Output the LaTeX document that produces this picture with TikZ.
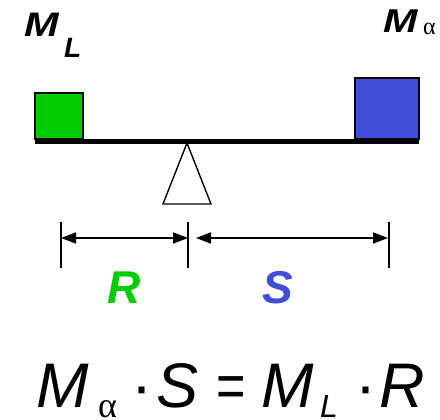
\documentclass[tikz,border=0pt]{standalone}
\usepackage{fontspec}
\usepackage{graphicx}
\setmainfont{Liberation Sans}
\newfontfamily\serifgreek{Liberation Serif}
\usetikzlibrary{arrows.meta}
\definecolor{massgreen}{RGB}{0,204,0}
\definecolor{massblue}{RGB}{66,77,215}
\tikzset{
  txt/.style={inner sep=0pt, outer sep=0pt, anchor=base west},
  mass/.style={draw=black, line width=1.4pt},
  tick/.style={line width=1.5pt},
  dim/.style={line width=1.5pt, {Triangle[length=15pt,width=11pt]}-{Triangle[length=15pt,width=11pt]}}
}
\begin{document}
\begin{tikzpicture}[x=1pt,y=-1pt]
\useasboundingbox (0,0) rectangle (440,420);
% masses
\draw[mass, fill=massgreen] (35,93) rectangle (83,139);
\draw[mass, fill=massblue] (355,78) rectangle (419,139);
% beam
\draw[line width=4.5pt] (35,141.5) -- (419,141.5);
% fulcrum
\coordinate (apex) at (187,143);
\coordinate (bl) at (163,204);
\coordinate (br) at (211,204);
\draw[line width=1.4pt, line join=miter] (apex) -- (bl) -- (br) -- cycle;
% labels above masses
\node[txt, font=\fontsize{34}{34}\selectfont\bfseries\itshape] (mlM) at (24,37) {\scalebox{1.22}[1]{M}};
\node[txt, font=\fontsize{28}{28}\selectfont\bfseries\itshape] (mlL) at (64,58) {L};
\node[txt, font=\fontsize{33}{33}\selectfont\bfseries\itshape] (maM) at (383,33) {\scalebox{1.25}[1]{M}};
\node[txt, font=\fontsize{24}{24}\selectfont\serifgreek] (maA) at (423,35) {α};
% dimension ticks
\coordinate (t1a) at (61,222); \coordinate (t1b) at (61,268);
\coordinate (t2a) at (188,222); \coordinate (t2b) at (188,268);
\coordinate (t3a) at (389,222); \coordinate (t3b) at (389,268);
\draw[tick] (t1a) -- (t1b);
\draw[tick] (t2a) -- (t2b);
\draw[tick] (t3a) -- (t3b);
\coordinate (r1) at (61,238); \coordinate (r2) at (188,238);
\coordinate (s1) at (196,238); \coordinate (s2) at (388,238);
\draw[dim] (r1) -- (r2);
\draw[dim] (s1) -- (s2);
% R and S
\node[txt, font=\fontsize{46}{46}\selectfont\bfseries\itshape, text=massgreen] (R) at (107,303) {R};
\node[txt, font=\fontsize{46}{46}\selectfont\bfseries\itshape, text=massblue] (S) at (262,303) {S};
% equation
\node[txt, font=\fontsize{63}{63}\selectfont\itshape] (eM1) at (36,407) {M};
\node[txt, font=\fontsize{36}{36}\selectfont\serifgreek] (eA) at (98,417) {α};
\node[txt, font=\fontsize{63}{63}\selectfont] (eD1) at (131,407) {·};
\node[txt, font=\fontsize{63}{63}\selectfont\itshape] (eS) at (156,407) {S};
\node[txt, font=\fontsize{63}{63}\selectfont] (eEq) at (216,407) {\scalebox{0.8}[1]{=}};
\node[txt, font=\fontsize{63}{63}\selectfont\itshape] (eM2) at (261,407) {M};
\node[txt, font=\fontsize{32}{32}\selectfont\itshape] (eL) at (320,417) {L};
\node[txt, font=\fontsize{63}{63}\selectfont] (eD2) at (355,407) {·};
\node[txt, font=\fontsize{63}{63}\selectfont\itshape] (eR) at (379,407) {R};
\end{tikzpicture}
\end{document}
